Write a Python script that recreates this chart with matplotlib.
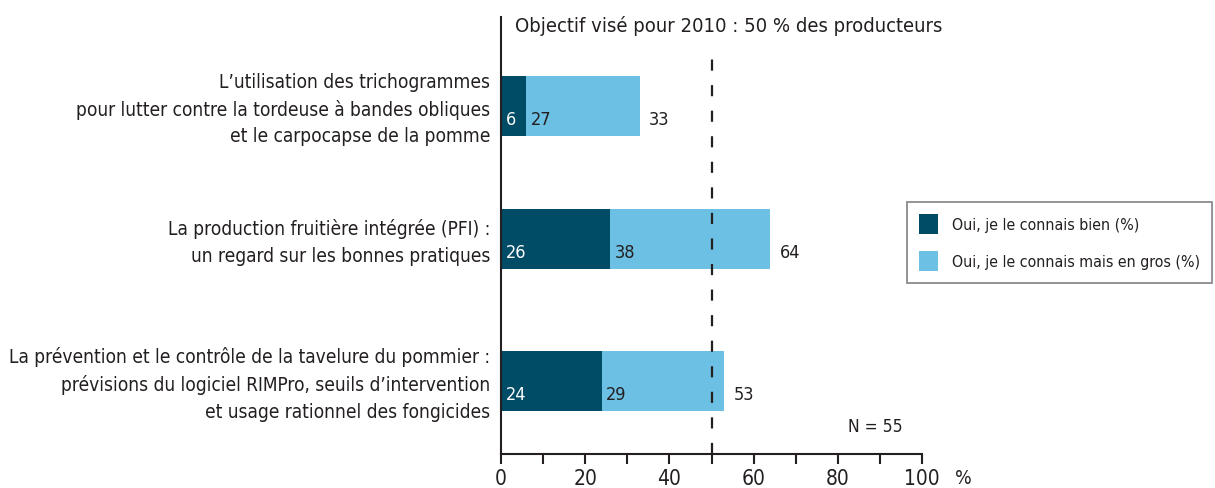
import matplotlib
matplotlib.use("Agg")
import matplotlib.pyplot as plt
from matplotlib.patches import Patch
from matplotlib.transforms import ScaledTranslation

plt.rcParams['font.family'] = ['DejaVu Sans']
plt.rcParams['font.stretch'] = 'condensed'

categories = [
    "L\u2019utilisation des trichogrammes\npour lutter contre la tordeuse \u00e0 bandes obliques\net le carpocapse de la pomme",
    "La production fruiti\u00e8re int\u00e9gr\u00e9e (PFI) :\nun regard sur les bonnes pratiques",
    "La pr\u00e9vention et le contr\u00f4le de la tavelure du pommier :\npr\u00e9visions du logiciel RIMPro, seuils d\u2019intervention\net usage rationnel des fongicides",
]
connait_bien = [6, 26, 24]
connait_en_gros = [27, 38, 29]
totaux = [33, 64, 53]
series_labels = ["Oui, je le connais bien (%)", "Oui, je le connais mais en gros (%)"]
x_ticks = [0, 20, 40, 60, 80, 100]
objectif = 50

DARK = "#004b66"
LIGHT = "#6bc0e3"
TXT = "#231f20"

W, H = 1215, 489
fig = plt.figure(figsize=(W / 100, H / 100), dpi=100)
ax = fig.add_axes([501 / W, 1 - 455 / H, (922 - 501) / W, (455 - 18) / H])

# vertical layout of the three rows (axis units run top to bottom)
y_top, y_bottom = 18, 455
ypos = [107, 240, 382]
bar_h = 60

ax.barh(ypos, connait_bien, height=bar_h, color=DARK, zorder=2)
ax.barh(ypos, connait_en_gros, left=connait_bien, height=bar_h, color=LIGHT, zorder=2)

ax.set_ylim(y_bottom, y_top)
ax.set_xlim(0, 100)

# objective line at 50 %
ax.plot([objectif, objectif], [y_bottom, 57], color=TXT, lw=1.6,
        linestyle=(0, (5, 6.5)), zorder=3, clip_on=False)

lab_off = 13
for i, yc in enumerate(ypos):
    ax.text(1.2, yc + lab_off, str(connait_bien[i]), color="white", fontsize=13,
            va="center", ha="left", zorder=4)
    ax.text(connait_bien[i] + 1.0, yc + lab_off, str(connait_en_gros[i]), color=TXT,
            fontsize=13, va="center", ha="left", zorder=4)
    ax.text(connait_bien[i] + connait_en_gros[i] + 2.2, yc + lab_off, str(totaux[i]),
            color=TXT, fontsize=13, va="center", ha="left", zorder=4)

ax.set_yticks(ypos)
ax.set_yticklabels(categories, fontsize=13.7, color=TXT, linespacing=1.5)
ax.tick_params(axis="y", length=0, pad=8)
shift_up = ScaledTranslation(0, 3 / 100, fig.dpi_scale_trans)
for lbl in ax.get_yticklabels():
    lbl.set_transform(lbl.get_transform() + shift_up)

ax.set_xticks(range(0, 101, 10))
ax.set_xticklabels([str(t) if t in x_ticks else "" for t in range(0, 101, 10)],
                   fontsize=15, color=TXT)
ax.tick_params(axis="x", direction="out", length=7, width=1.5, color=TXT, pad=3)

for s in ["top", "right"]:
    ax.spines[s].set_visible(False)
for s in ["left", "bottom"]:
    ax.spines[s].set_color(TXT)
    ax.spines[s].set_linewidth(1.5)

fig.text(515 / W, 1 - 26 / H, "Objectif vis\u00e9 pour 2010 : 50 % des producteurs",
         fontsize=14.5, color=TXT, va="center", ha="left")
fig.text(848 / W, 1 - 427 / H, "N = 55", fontsize=12.5, color=TXT, va="center", ha="left")
fig.text(955 / W, 1 - 479 / H, "%", fontsize=14, color=TXT, va="center", ha="left")

handles = [Patch(facecolor=DARK), Patch(facecolor=LIGHT)]
leg = fig.legend(handles, series_labels, loc="upper left",
                 bbox_to_anchor=(907 / W, 1 - 203 / H), frameon=True, fancybox=False,
                 fontsize=11.4, handlelength=1.2, handleheight=1.55, handletextpad=0.9,
                 labelspacing=1.1, borderpad=0.75, borderaxespad=0)
leg.get_frame().set_edgecolor("#6d6e71")
leg.get_frame().set_linewidth(1.3)
for t in leg.get_texts():
    t.set_color(TXT)

fig.savefig("out.png", dpi=100)
